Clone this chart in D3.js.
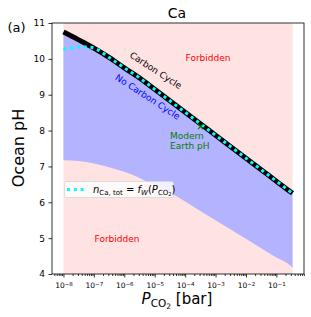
<!DOCTYPE html>
<html>
<head>
<meta charset="utf-8">
<script src="https://cdn.jsdelivr.net/npm/d3@7"></script>
<style>
  body { margin: 0; background: #fff; }
  svg text { font-family: "DejaVu Sans", sans-serif; }
</style>
</head>
<body>
<svg id="chart" width="311" height="317"></svg>
<script>
// values
var pco2 = [1e-8, 3.16e-8, 1e-7, 3.16e-7, 1e-6, 3.16e-6, 1e-5, 3.16e-5, 1e-4,
            3.16e-4, 1e-3, 3.16e-3, 1e-2, 3.16e-2, 1e-1, 3.16e-1, 3.4e-1];
var phCarbonCycle = [10.75, 10.53, 10.30, 10.04, 9.75, 9.47, 9.15, 8.83, 8.51,
                     8.19, 7.87, 7.55, 7.23, 6.91, 6.59, 6.27, 6.25];
var phLowerLimit = [7.17, 7.15, 7.08, 6.98, 6.85, 6.68, 6.47, 6.27, 6.02,
                    5.76, 5.50, 5.24, 4.98, 4.72, 4.46, 4.20, 4.17];
var pco2Weathering = [1e-8, 1.78e-8, 3.16e-8, 5.62e-8, 1e-7, 3.16e-7, 1e-6, 3.16e-6,
                      1e-5, 3.16e-5, 1e-4, 3.16e-4, 1e-3, 3.16e-3, 1e-2, 3.16e-2,
                      1e-1, 3.16e-1, 3.4e-1];
var phWeathering = [10.27, 10.30, 10.33, 10.33, 10.30, 10.04, 9.75, 9.47,
                    9.15, 8.83, 8.51, 8.19, 7.87, 7.55, 7.23, 6.91,
                    6.59, 6.27, 6.25];
var modernEarth = [3.2e-4, 8.11];
var yTicks = [4, 5, 6, 7, 8, 9, 10, 11];
var xExponents = [-8, -7, -6, -5, -4, -3, -2, -1];

var svg = d3.select("#chart");
var axL = 52, axR = 304, axT = 23, axB = 274;

// matplotlib-like 5% margin in log space
var lmin = Math.log10(d3.min(pco2)), lmax = Math.log10(d3.max(pco2));
var pad = (lmax - lmin) * 0.05;
var x = d3.scaleLog()
    .domain([Math.pow(10, lmin - pad), Math.pow(10, lmax + pad)])
    .range([axL, axR]);
var y = d3.scaleLinear().domain([4, 11]).range([axB, axT]);

var rows = pco2.map(function(p, i) {
    return { p: p, up: phCarbonCycle[i], lo: phLowerLimit[i] };
});

var curve = d3.curveMonotoneX;

// forbidden regions (pink) then allowed band (blue)
svg.append("path")
    .attr("fill", "#ffe3e3")
    .attr("d", d3.area().curve(curve)
        .x(function(d) { return x(d.p); })
        .y0(y(4)).y1(y(11))(rows));

svg.append("path")
    .attr("fill", "#b3b3ff")
    .attr("d", d3.area().curve(curve)
        .x(function(d) { return x(d.p); })
        .y0(function(d) { return y(d.lo); })
        .y1(function(d) { return y(d.up); })(rows));

// carbon cycle line
svg.append("path")
    .attr("fill", "none")
    .attr("stroke", "#000")
    .attr("stroke-width", 5)
    .attr("d", d3.line().curve(curve)
        .x(function(d) { return x(d.p); })
        .y(function(d) { return y(d.up); })(rows));

// weathering curve, cyan dotted
var wRows = pco2Weathering.map(function(p, i) { return { p: p, v: phWeathering[i] }; });
svg.append("path")
    .attr("fill", "none")
    .attr("stroke", "#00ffff")
    .attr("stroke-width", 3)
    .attr("stroke-dasharray", "3,3.8")
    .attr("d", d3.line().curve(curve)
        .x(function(d) { return x(d.p); })
        .y(function(d) { return y(d.v); })(wRows));

// modern earth marker
var mx = x(modernEarth[0]), my = y(modernEarth[1]);
svg.append("path")
    .attr("d", "M" + (mx - 2.5) + "," + (my - 2.5) + "L" + (mx + 2.5) + "," + (my + 2.5) +
               "M" + (mx - 2.5) + "," + (my + 2.5) + "L" + (mx + 2.5) + "," + (my - 2.5))
    .attr("stroke", "green").attr("stroke-width", 1.2);

// annotations
function label(txt, px, py, color, rot, anchor) {
    svg.append("text")
        .attr("transform", "translate(" + px + "," + py + ") rotate(" + (rot || 0) + ")")
        .attr("text-anchor", anchor || "middle")
        .attr("font-size", 9)
        .attr("fill", color)
        .text(txt);
}
label("Forbidden", 208, 61, "red");
label("Forbidden", 117, 241.5, "red");
label("Carbon Cycle", 154, 73, "#000", 33);
label("No Carbon Cycle", 146, 99.5, "blue", 33);
label("Modern", 170, 139, "green", 0, "start");
label("Earth pH", 170, 148.5, "green", 0, "start");

// axes
var yAxis = d3.axisLeft(y).tickValues(yTicks).tickFormat(d3.format("d"))
    .tickSize(3.5).tickPadding(3.5);
var gy = svg.append("g").attr("transform", "translate(" + axL + ",0)").call(yAxis);
gy.selectAll("text").attr("font-size", 9).attr("fill", "#000");

var minor = x.ticks().filter(function(t) {
    var e = Math.log10(t);
    return Math.abs(e - Math.round(e)) > 1e-6;
});
var gxm = svg.append("g").attr("transform", "translate(0," + axB + ")")
    .call(d3.axisBottom(x).tickValues(minor).tickSize(2).tickFormat(""));

var gx = svg.append("g").attr("transform", "translate(0," + axB + ")")
    .call(d3.axisBottom(x).tickValues(xExponents.map(function(e) { return Math.pow(10, e); }))
        .tickSize(3.5).tickPadding(3));
gx.selectAll("text").each(function(d, i) {
    var t = d3.select(this).text("").attr("font-size", 7.5).attr("fill", "#000")
        .attr("dy", "1.05em");
    t.append("tspan").text("10");
    t.append("tspan").attr("dy", "-0.45em").attr("font-size", 5.5)
        .text("\u2212" + Math.abs(xExponents[i]));
});
[gy, gx, gxm].forEach(function(g) {
    g.select(".domain").remove();
    g.selectAll("line").attr("stroke", "#000").attr("stroke-width", 0.8);
});

svg.append("rect")
    .attr("x", axL).attr("y", axT)
    .attr("width", axR - axL).attr("height", axB - axT)
    .attr("fill", "none").attr("stroke", "#000").attr("stroke-width", 0.8);

// legend
var lg = svg.append("g");
lg.append("rect")
    .attr("x", 64.5).attr("y", 181.5).attr("width", 109).attr("height", 16).attr("rx", 2)
    .attr("fill", "rgba(255,255,255,0.8)").attr("stroke", "#d6d6d6").attr("stroke-width", 0.8);
lg.append("line")
    .attr("x1", 67).attr("x2", 86).attr("y1", 189.5).attr("y2", 189.5)
    .attr("stroke", "#00ffff").attr("stroke-width", 3).attr("stroke-dasharray", "3,3.8");
var lt = lg.append("text").attr("x", 93).attr("y", 193).attr("font-size", 10).attr("fill", "#000");
lt.append("tspan").attr("font-style", "italic").text("n");
lt.append("tspan").attr("font-size", 7).attr("dy", 1.8).text("Ca, tot");
lt.append("tspan").attr("dy", -1.8).text(" = ");
lt.append("tspan").attr("font-style", "italic").text("f");
lt.append("tspan").attr("font-style", "italic").attr("font-size", 7).attr("dy", 1.8).text("W");
lt.append("tspan").attr("dy", -1.8).text("(");
lt.append("tspan").attr("font-style", "italic").text("P");
lt.append("tspan").attr("font-size", 7).attr("dy", 1.8).text("CO");
lt.append("tspan").attr("font-size", 5).attr("dy", 1).text("2");
lt.append("tspan").attr("dy", -2.8).text(")");

// titles
svg.append("text").attr("x", 177).attr("y", 18).attr("text-anchor", "middle")
    .attr("font-size", 14).text("Ca");
svg.append("text").attr("x", 16.5).attr("y", 32).attr("text-anchor", "middle")
    .attr("font-size", 13).text("(a)");
svg.append("text")
    .attr("transform", "translate(24,148) rotate(-90)")
    .attr("text-anchor", "middle").attr("font-size", 16).text("Ocean pH");
var xl = svg.append("text").attr("x", 177).attr("y", 304).attr("text-anchor", "middle")
    .attr("font-size", 15);
xl.append("tspan").attr("font-style", "italic").text("P");
xl.append("tspan").attr("font-size", 10.5).attr("dy", 3).text("CO");
xl.append("tspan").attr("font-size", 7.5).attr("dy", 1.5).text("2");
xl.append("tspan").attr("dy", -4.5).text(" [bar]");
</script>
</body>
</html>
